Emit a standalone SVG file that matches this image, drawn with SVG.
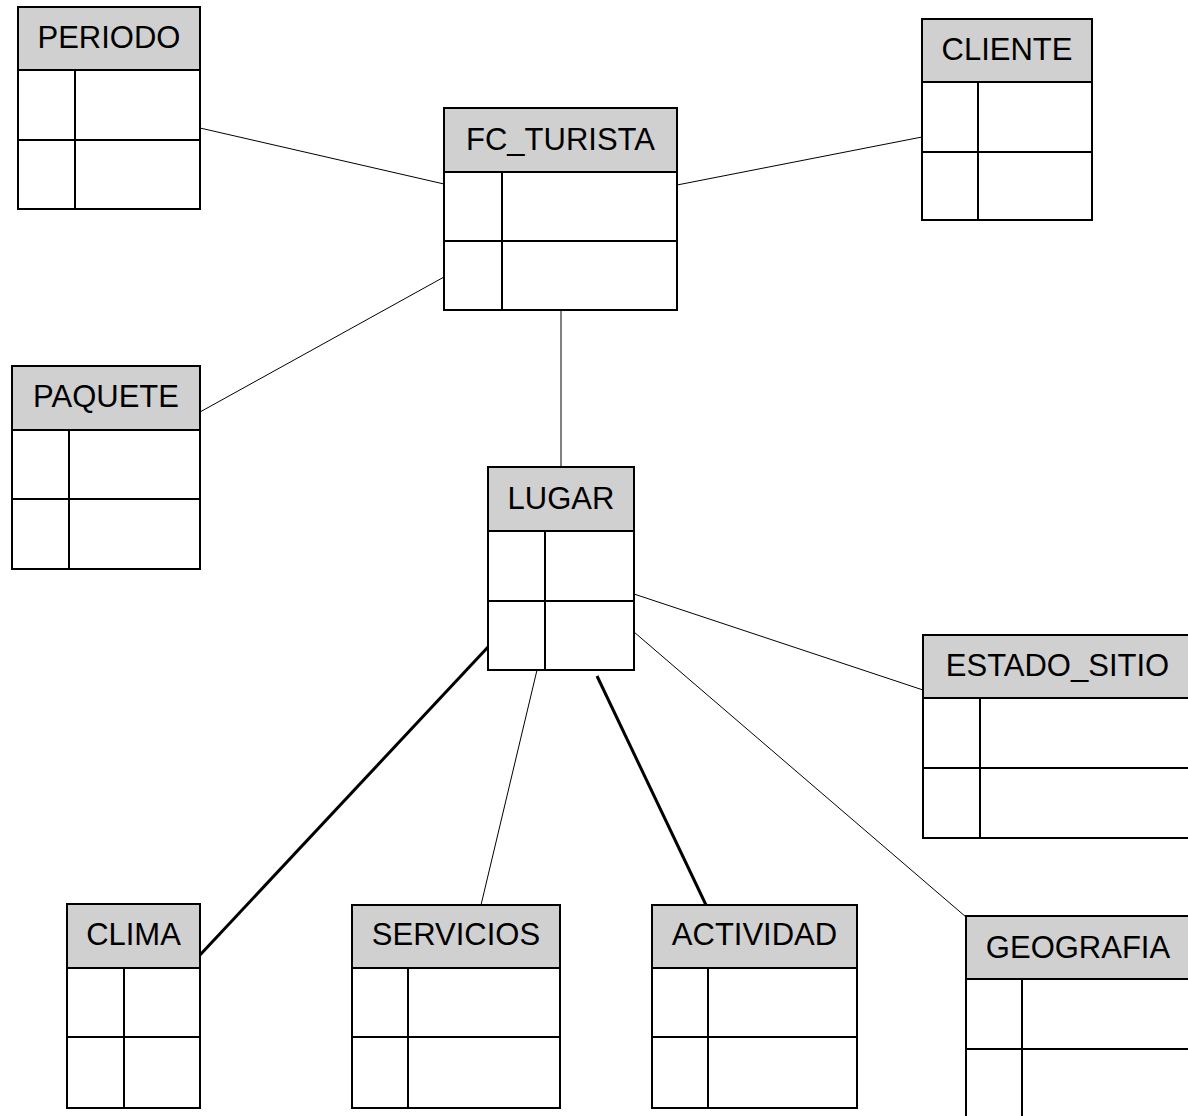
<svg xmlns="http://www.w3.org/2000/svg" width="1188" height="1116" viewBox="0 0 1188 1116">
<style>
.bg{fill:#fff}
.body{fill:#fff;stroke:#000;stroke-width:2}
.hdr{fill:#d0d0d0;stroke:#000;stroke-width:2}
.ln{stroke:#000;stroke-width:2;fill:none}
.t{font-family:"Liberation Sans",Arial,sans-serif;font-size:31px;text-anchor:middle;fill:#000}
.c{stroke:#000;stroke-width:1;fill:none}
.ck{stroke:#000;stroke-width:3;fill:none}
</style>
<rect class="bg" x="0" y="0" width="1188" height="1116"/>
<g id="connectors">
<line class="c" x1="200" y1="128" x2="444" y2="184"/>
<line class="c" x1="677" y1="185" x2="922" y2="137"/>
<line class="c" x1="200" y1="412" x2="444" y2="277"/>
<line class="c" x1="561" y1="310" x2="561" y2="467"/>
<line class="ck" x1="488" y1="647" x2="200" y2="955"/>
<line class="c" x1="537" y1="670" x2="481" y2="905"/>
<line class="ck" x1="597" y1="676" x2="706" y2="905"/>
<line class="c" x1="634" y1="594" x2="923" y2="690"/>
<line class="c" x1="634" y1="632" x2="966" y2="917"/>
</g>
<g id="PERIODO">
<rect class="body" x="18" y="7" width="182" height="202"/>
<rect class="hdr" x="18" y="7" width="182" height="63"/>
<line class="ln" x1="18" y1="140" x2="200" y2="140"/>
<line class="ln" x1="75" y1="70" x2="75" y2="209"/>
<text class="t" x="109" y="48">PERIODO</text>
</g>
<g id="FC_TURISTA">
<rect class="body" x="444" y="108" width="233" height="202"/>
<rect class="hdr" x="444" y="108" width="233" height="64"/>
<line class="ln" x1="444" y1="241" x2="677" y2="241"/>
<line class="ln" x1="502" y1="172" x2="502" y2="310"/>
<text class="t" x="560.5" y="150">FC_TURISTA</text>
</g>
<g id="CLIENTE">
<rect class="body" x="922" y="19" width="170" height="201"/>
<rect class="hdr" x="922" y="19" width="170" height="63"/>
<line class="ln" x1="922" y1="152" x2="1092" y2="152"/>
<line class="ln" x1="978" y1="82" x2="978" y2="220"/>
<text class="t" x="1007" y="60">CLIENTE</text>
</g>
<g id="PAQUETE">
<rect class="body" x="12" y="366" width="188" height="203"/>
<rect class="hdr" x="12" y="366" width="188" height="64"/>
<line class="ln" x1="12" y1="499" x2="200" y2="499"/>
<line class="ln" x1="69" y1="430" x2="69" y2="569"/>
<text class="t" x="106" y="407">PAQUETE</text>
</g>
<g id="LUGAR">
<rect class="body" x="488" y="467" width="146" height="203"/>
<rect class="hdr" x="488" y="467" width="146" height="64"/>
<line class="ln" x1="488" y1="601" x2="634" y2="601"/>
<line class="ln" x1="545" y1="531" x2="545" y2="670"/>
<text class="t" x="561" y="509">LUGAR</text>
</g>
<g id="ESTADO_SITIO">
<rect class="body" x="923" y="635" width="270" height="203"/>
<rect class="hdr" x="923" y="635" width="270" height="63"/>
<line class="ln" x1="923" y1="768" x2="1193" y2="768"/>
<line class="ln" x1="980" y1="698" x2="980" y2="838"/>
<text class="t" x="1057.5" y="676">ESTADO_SITIO</text>
</g>
<g id="GEOGRAFIA">
<rect class="body" x="966" y="916" width="224" height="210"/>
<rect class="hdr" x="966" y="916" width="224" height="63"/>
<line class="ln" x1="966" y1="1049" x2="1190" y2="1049"/>
<line class="ln" x1="1022" y1="979" x2="1022" y2="1126"/>
<text class="t" x="1078" y="958">GEOGRAFIA</text>
</g>
<g id="CLIMA">
<rect class="body" x="67" y="904" width="133" height="204"/>
<rect class="hdr" x="67" y="904" width="133" height="64"/>
<line class="ln" x1="67" y1="1037" x2="200" y2="1037"/>
<line class="ln" x1="124" y1="968" x2="124" y2="1108"/>
<text class="t" x="133.5" y="945">CLIMA</text>
</g>
<g id="SERVICIOS">
<rect class="body" x="352" y="905" width="208" height="203"/>
<rect class="hdr" x="352" y="905" width="208" height="63"/>
<line class="ln" x1="352" y1="1037" x2="560" y2="1037"/>
<line class="ln" x1="408" y1="968" x2="408" y2="1108"/>
<text class="t" x="456" y="945">SERVICIOS</text>
</g>
<g id="ACTIVIDAD">
<rect class="body" x="652" y="905" width="205" height="203"/>
<rect class="hdr" x="652" y="905" width="205" height="63"/>
<line class="ln" x1="652" y1="1037" x2="857" y2="1037"/>
<line class="ln" x1="708" y1="968" x2="708" y2="1108"/>
<text class="t" x="754.5" y="945">ACTIVIDAD</text>
</g>
</svg>
